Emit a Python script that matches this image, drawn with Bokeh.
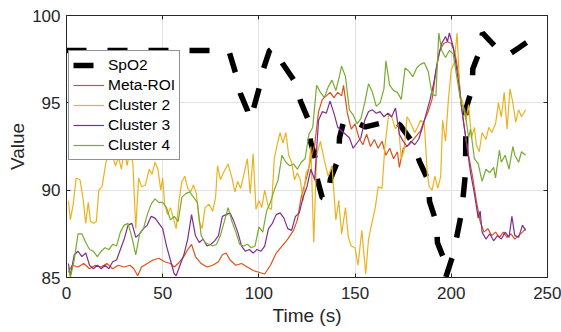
from bokeh.plotting import figure
from bokeh.models import Range1d, LinearAxis, FixedTicker, CustomJSTickFormatter, Legend, LegendItem
from bokeh.embed import file_html
from bokeh.resources import INLINE

# ---------------- data ----------------
x_ticks = [0, 50, 100, 150, 200, 250]
y_ticks = [85, 90, 95, 100]

t_spo2 = [0, 82, 84.7, 87.8, 90.4, 94.1, 95.1, 97.2, 99.8, 102.4, 105.5, 107.6, 112.3, 119.0, 121.6,
          125.8, 126.8, 129.4, 130.3, 132.9, 135.5, 137.2, 141.4, 141.9, 144.0, 146.0, 155.4, 165.8,
          169.7, 173.6, 180.4, 183.5, 188.1, 188.7, 192.3, 192.8, 196.5, 197.2, 201.1, 205.3, 207.4,
          207.6, 210.8, 211.2, 215.2, 216.2, 225.6, 229.7, 234.4, 239.1]
v_spo2 = [98.0, 98.0, 97.87, 96.73, 95.53, 94.55, 94.04, 94.67, 95.7, 96.96, 97.99, 98.16, 97.25,
          96.16, 95.1, 94.0, 92.8, 91.8, 90.64, 89.58, 89.49, 90.64, 91.8, 93.0, 93.9, 94.1, 93.62,
          93.9, 94.05, 93.7, 92.66, 91.63, 90.54, 89.34, 88.13, 86.99, 85.96, 85.04, 86.36, 88.7,
          91.0, 94.65, 95.8, 96.95, 98.1, 99.0, 97.9, 97.75, 98.1, 98.45]

t_meta = [1, 3, 6, 9, 12, 15, 18, 21, 24, 27, 30, 33, 35, 37, 39, 42, 45, 48, 51, 54, 56, 58, 61, 63,
          65, 67, 70, 73, 76, 79, 81, 83, 85, 88, 91, 94, 97, 100, 103, 106, 109, 112, 115, 118, 120,
          122, 125, 127, 129, 131, 133, 135, 137, 139, 141, 143, 144, 146, 148, 150, 152, 154, 156,
          158, 160, 162, 164, 166, 168, 170, 172, 173, 175, 178, 181, 184, 186, 188, 190, 192, 194,
          196, 198, 200, 202, 204, 205, 207, 209, 211, 213, 215, 217, 219, 221, 223, 225, 227, 229,
          231, 233, 235, 237, 238.6]
v_meta = [85.3, 85.7, 85.6, 85.8, 85.5, 85.7, 85.6, 85.8, 85.5, 85.7, 85.6, 85.7, 85.5, 85.1, 85.6,
          85.8, 86.0, 86.1, 85.9, 85.8, 85.6, 85.8, 86.2, 86.6, 86.9, 86.2, 85.8, 85.6, 85.7, 85.9,
          86.3, 86.4, 86.0, 85.7, 85.8, 85.6, 85.4, 85.3, 85.2, 85.7, 86.4, 86.8, 87.2, 87.7, 88.3,
          89.6, 90.8, 91.8, 92.6, 94.5, 95.2, 95.4, 95.6, 95.3, 95.6, 95.4, 96.0, 94.4, 93.5, 93.8,
          93.0, 92.6, 93.2, 92.5, 92.9, 92.4, 92.8, 92.0, 92.4, 91.8, 92.2, 91.3, 92.4, 92.6, 93.0,
          93.4, 94.0, 94.5, 95.2, 96.8, 98.0, 98.4, 98.5, 98.4, 97.8, 96.5, 95.0, 93.4, 92.0, 90.8,
          89.4, 88.2, 87.6, 87.8, 87.4, 87.6, 87.3, 87.6, 87.3, 87.5, 87.2, 87.4, 87.6, 87.8]

t_c2 = [1, 2, 3.5, 5, 7, 8.5, 10, 11.3, 12.5, 14, 15.5, 16.8, 18.5, 20.5, 22.5, 24, 25.5, 27, 28.5,
        30, 31.5, 33, 34.5, 36, 37.5, 39, 41, 43, 44.5, 46, 47.5, 49, 50, 51, 52.5, 54, 55.5, 57,
        58.5, 60, 61.5, 63, 64.5, 66, 67.5, 69, 70.5, 72, 74, 76, 77.5, 78.5, 80, 82, 84, 86, 87.5,
        89, 90.5, 92, 94, 95.5, 97, 98.5, 100, 101.5, 103, 105, 106.5, 108, 109.5, 111, 112.5, 114,
        115.5, 117, 118.5, 120, 121.5, 123, 124.5, 126, 127, 128.5, 130, 132, 134, 136, 138, 140,
        141.5, 143, 145, 146.5, 148, 150, 151.5, 153.5, 155.5, 157, 158.5, 160.5, 162, 164, 165.5,
        167.5, 169, 171, 172.5, 174, 175.5, 177, 179, 181, 182.5, 184, 186, 187.5, 188.5, 190,
        191.5, 193, 194.5, 195.5, 197, 198.5, 200, 201.5, 203, 204.5, 206, 207.5, 209, 210.5, 212,
        213, 214.5, 216, 218, 219.5, 221, 223, 224.5, 226, 227.5, 229, 230.5, 232, 233.5, 235,
        236.5, 238.6]
v_c2 = [89.4, 88.3, 89.2, 90.7, 90.6, 89.6, 88.1, 89.3, 88.2, 88.1, 88.2, 90.0, 90.2, 91.6, 92.2,
        91.9, 91.4, 91.9, 91.2, 92.3, 91.4, 92.3, 91.5, 87.8, 90.7, 90.2, 90.3, 91.2, 90.9, 91.6,
        91.2, 90.0, 90.7, 89.2, 88.6, 89.0, 88.4, 87.8, 89.4, 90.5, 90.8, 90.1, 89.9, 90.3, 89.8,
        88.2, 87.8, 89.0, 89.2, 88.8, 89.6, 91.4, 90.6, 91.1, 91.5, 90.7, 89.9, 90.5, 90.1, 90.8,
        91.8, 89.8, 92.1, 88.9, 89.4, 89.0, 90.0, 89.0, 88.9, 91.8, 92.6, 93.3, 92.7, 93.3, 92.0,
        91.6, 90.6, 91.0, 90.6, 89.4, 91.0, 91.3, 92.5, 87.0, 92.0, 92.8, 91.7, 90.8, 91.4, 88.3,
        89.4, 87.5, 89.0, 87.3, 86.8, 86.7, 85.7, 87.7, 85.2, 87.2, 88.0, 89.0, 90.2, 90.1, 92.5,
        94.4, 94.2, 93.5, 93.8, 91.8, 92.3, 94.2, 93.8, 93.3, 93.6, 94.0, 93.8, 91.0, 90.2, 90.0,
        90.8, 90.1, 90.8, 94.0, 92.8, 95.2, 96.9, 97.3, 99.0, 95.5, 95.0, 94.0, 94.9, 93.0, 93.6,
        92.6, 92.2, 93.3, 92.9, 93.6, 93.3, 93.8, 95.0, 94.2, 95.6, 93.5, 95.8, 95.0, 93.9, 94.6,
        94.2, 94.6]

t_c3 = [1, 2, 4, 6, 8, 10, 12, 14, 16, 18, 20, 22, 24, 26, 28, 30, 32, 34, 36, 38, 40, 42, 44, 46,
        48, 50, 52, 54, 56, 57, 59, 61, 63, 65, 67, 69, 71, 73, 75, 77, 79, 81, 83, 85, 87, 89, 91,
        93, 95, 97, 99, 101, 103, 105, 107, 109, 111, 113, 115, 117, 119, 121, 123, 125, 127, 129,
        131, 133, 135, 137, 139, 141, 143, 145, 147, 149, 151, 153, 155, 157, 159, 161, 163, 165,
        167, 169, 171, 173, 175, 177, 179, 181, 183, 185, 187, 189, 191, 193, 195, 197, 198, 199,
        201, 202, 204, 206, 208, 210, 212, 214, 215, 216, 218, 220, 222, 224, 226, 228, 230, 231.5,
        233, 235, 237, 238.6]
v_c3 = [85.8, 85.1, 86.3, 86.5, 86.2, 86.4, 85.7, 85.5, 85.7, 85.5, 85.7, 85.5, 85.9, 86.0, 86.6,
        87.2, 88.0, 88.1, 87.3, 87.5, 87.8, 88.0, 88.5, 88.4, 88.1, 87.8, 86.8, 86.0, 85.2, 85.1,
        85.7, 86.3, 87.2, 88.6, 87.4, 87.0, 87.2, 86.8, 86.9, 87.1, 87.4, 88.5, 88.6, 88.7, 88.2,
        87.6, 86.8, 86.5, 86.6, 86.4, 86.6, 86.5, 86.8, 87.8, 88.1, 88.6, 88.7, 88.4, 87.8, 87.7,
        88.5, 88.7, 89.6, 90.2, 91.2, 90.6, 94.0, 94.5, 94.4, 95.1, 94.4, 93.6, 93.4, 93.2, 93.0,
        92.4, 92.7, 93.0, 94.0, 94.5, 94.6, 94.4, 94.5, 94.2, 94.4, 94.2, 94.7, 93.2, 92.8, 92.5,
        92.8, 92.6, 92.9, 93.6, 94.4, 95.2, 96.2, 97.5, 98.4, 98.8, 98.5, 99.0, 98.2, 97.5, 96.0,
        94.2, 92.6, 91.0, 89.8, 88.4, 88.8, 87.6, 87.2, 87.5, 87.1, 87.4, 87.2, 87.6, 87.3, 88.5,
        87.4, 87.3, 88.0, 87.7]

t_c4 = [1, 2, 4, 6, 8, 10, 12, 14, 16, 18, 20, 22, 24, 26, 28, 30, 32, 34, 36, 38, 40, 42, 44, 46,
        48, 50, 52, 54, 56, 58, 60, 62, 64, 66, 68, 70, 72, 74, 76, 78, 80, 82, 84, 86, 88, 90, 92,
        94, 96, 98, 100, 102, 104, 106, 108, 110, 112, 114, 116, 118, 120, 122, 124, 126, 128, 130,
        132, 134, 136, 138, 140, 142, 143, 145, 147, 149, 151, 153, 155, 157, 159, 161, 163, 165,
        166, 168, 170, 172, 174, 176, 178, 180, 182, 184, 186, 188, 190, 192, 193.5, 195, 197, 199,
        201, 203, 205, 207, 209, 210, 212, 214, 216, 218, 220, 222, 223, 225, 226, 228, 230, 232,
        233, 235, 236.5, 238.6]
v_c4 = [85.6, 85.0, 86.0, 87.5, 87.5, 87.0, 86.6, 86.5, 86.2, 86.5, 86.7, 86.6, 86.9, 86.8, 87.6,
        88.0, 88.1, 87.3, 86.3, 87.5, 87.8, 88.6, 89.2, 89.5, 89.3, 89.3, 89.0, 88.3, 88.5, 88.2,
        89.6, 89.8, 89.9, 89.6, 89.3, 87.4, 87.0, 86.9, 86.8, 86.9, 87.4, 88.2, 89.0, 88.2, 87.6,
        86.9, 86.8, 86.9, 86.7, 86.8, 87.9, 87.6, 88.8, 89.3, 90.0, 90.6, 92.0, 91.6, 91.4, 91.5,
        91.2, 91.6, 91.8, 93.2, 93.6, 96.0, 95.6, 95.3, 95.9, 96.3, 95.7, 96.6, 97.1, 96.5, 94.6,
        94.3, 93.8, 94.1, 95.0, 96.1, 95.6, 94.8, 95.0, 95.8, 97.4, 96.0, 95.7, 95.6, 95.2, 97.0,
        96.8, 96.5, 97.0, 97.2, 97.3, 96.8, 95.5, 95.4, 99.0, 98.0, 97.6, 98.0, 97.8, 96.4, 95.0,
        94.6, 93.0, 93.5, 91.8, 91.5, 90.5, 91.2, 91.0, 91.3, 90.7, 92.3, 91.6, 92.0, 91.2, 92.5,
        92.0, 91.6, 92.2, 92.0]

# ---------------- style ----------------
FONT = "Liberation Sans"
AX = "#262626"

p = figure(width=561, height=332, output_backend="svg", toolbar_location=None,
           x_range=Range1d(0, 250), y_range=Range1d(85, 100),
           min_border_left=66, min_border_right=14, min_border_top=15, min_border_bottom=55,
           background_fill_color="white", border_fill_color="white")
p.outline_line_color = None

r_spo2 = p.line(t_spo2, v_spo2, line_color="black", line_width=5.5, line_dash="20 21", line_cap="butt")
r_meta = p.line(t_meta, v_meta, line_color="#D95319", line_width=1.2)
r_c2 = p.line(t_c2, v_c2, line_color="#EDB120", line_width=1.2)
r_c3 = p.line(t_c3, v_c3, line_color="#7E2F8E", line_width=1.2)
r_c4 = p.line(t_c4, v_c4, line_color="#77AC30", line_width=1.2)

p.xaxis.ticker = FixedTicker(ticks=x_ticks)
p.yaxis.ticker = FixedTicker(ticks=y_ticks)
p.xgrid.ticker = FixedTicker(ticks=x_ticks)
p.ygrid.ticker = FixedTicker(ticks=y_ticks)
for g in (p.xgrid, p.ygrid):
    g.grid_line_color = "#E1E1E1"
    g.grid_line_width = 1

for ax in (p.xaxis[0], p.yaxis[0]):
    ax.axis_line_color = AX
    ax.major_tick_line_color = AX
    ax.major_tick_in = 4
    ax.major_tick_out = 0
    ax.minor_tick_line_color = None
    ax.major_label_text_font = FONT
    ax.major_label_text_font_size = "17px"
    ax.major_label_text_color = AX
    ax.axis_label_text_font = FONT
    ax.axis_label_text_font_size = "19px"
    ax.axis_label_text_font_style = "normal"
    ax.axis_label_text_color = AX
p.xaxis.axis_label = "Time (s)"
p.yaxis.axis_label = "Value"
p.xaxis.major_label_standoff = 9
p.xaxis.axis_label_standoff = 3
p.yaxis.major_label_standoff = 6
p.yaxis.axis_label_standoff = 1

for loc, ticks in (("above", x_ticks), ("right", y_ticks)):
    extra = LinearAxis(ticker=FixedTicker(ticks=ticks),
                       formatter=CustomJSTickFormatter(code="return ''"),
                       axis_line_color=AX, major_tick_line_color=AX,
                       major_tick_in=4, major_tick_out=0, minor_tick_line_color=None,
                       major_label_standoff=0, major_label_text_font_size="1px")
    p.add_layout(extra, loc)

legend = Legend(items=[LegendItem(label="SpO2", renderers=[r_spo2]),
                       LegendItem(label="Meta-ROI", renderers=[r_meta]),
                       LegendItem(label="Cluster 2", renderers=[r_c2]),
                       LegendItem(label="Cluster 3", renderers=[r_c3]),
                       LegendItem(label="Cluster 4", renderers=[r_c4])],
                location=(2, 117), margin=0, padding=4, spacing=0,
                glyph_width=31, glyph_height=20, label_height=20, label_standoff=4,
                label_text_font=FONT, label_text_font_size="15.5px", label_text_color="black",
                border_line_color=AX, border_line_width=1,
                background_fill_color="white", background_fill_alpha=1)
p.add_layout(legend)

open("out.html", "w").write(file_html(p, INLINE, title="Value vs Time"))
